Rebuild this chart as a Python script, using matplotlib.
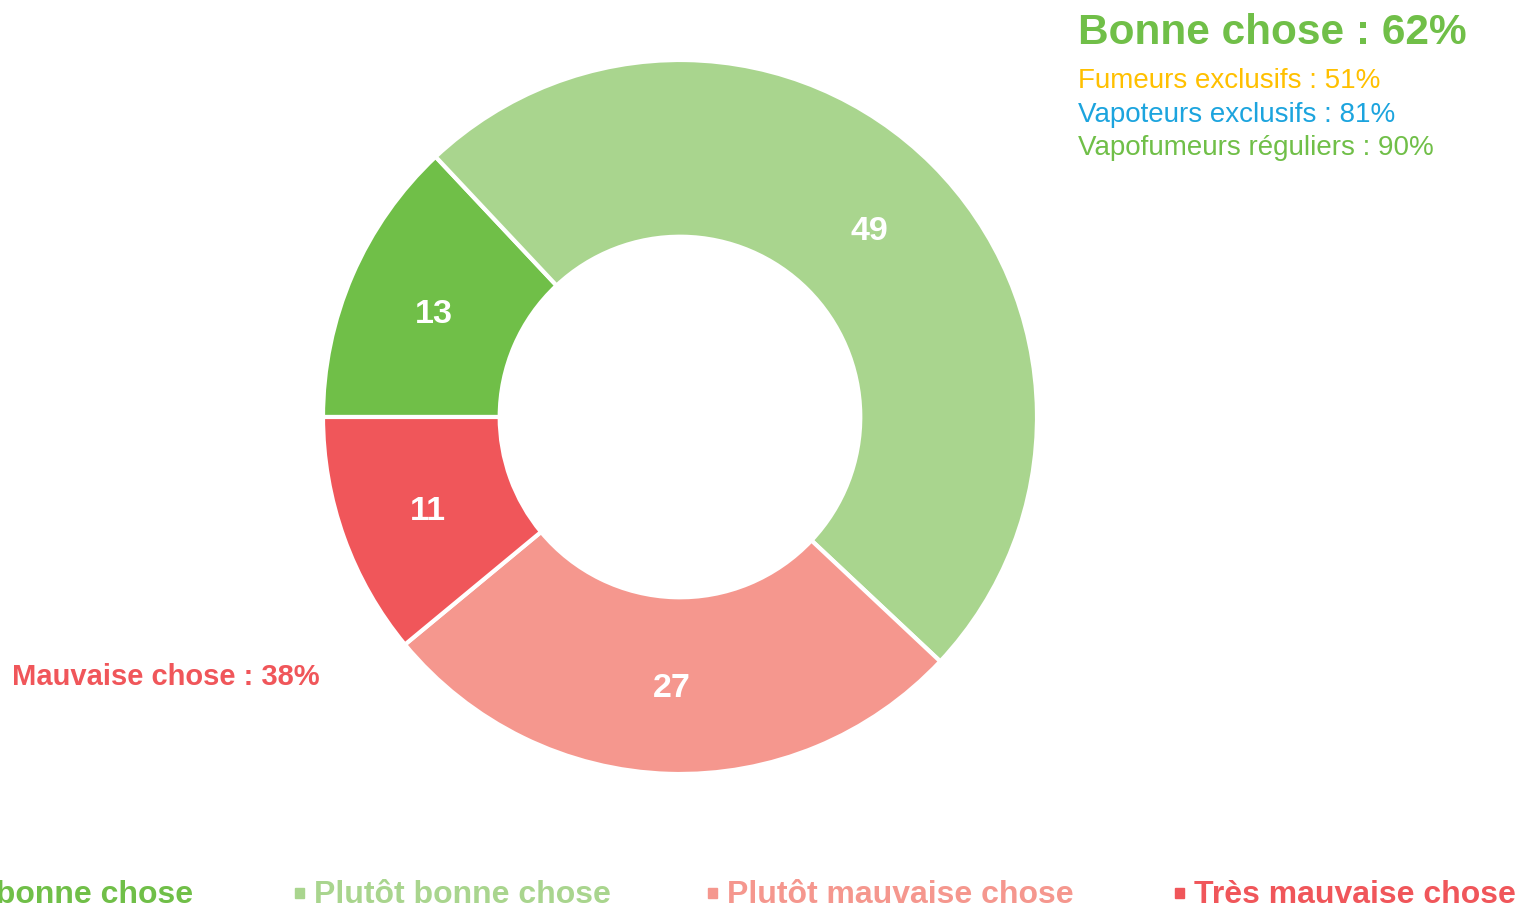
import matplotlib
matplotlib.use("Agg")
import matplotlib.pyplot as plt
from matplotlib.patches import Rectangle

plt.rcParams['font.family'] = ['Liberation Sans', 'DejaVu Sans']

labels = ["Très bonne chose", "Plutôt bonne chose", "Plutôt mauvaise chose", "Très mauvaise chose"]
values = [13, 49, 27, 11]
colors = ["#70BF48", "#A9D58E", "#F5978E", "#F0565A"]

bonne_total = "Bonne chose : 62%"
mauvaise_total = "Mauvaise chose : 38%"
sub_labels = ["Fumeurs exclusifs : 51%", "Vapoteurs exclusifs : 81%", "Vapofumeurs réguliers : 90%"]
sub_colors = ["#FFC000", "#1CA4DE", "#70BF48"]

W, H = 1527, 914
fig = plt.figure(figsize=(W / 100, H / 100), dpi=100)

# donut, centre (680, 417) px, outer radius 357 px
cx, cy, r = 680, 417, 357
ax = fig.add_axes([(cx - r) / W, (H - cy - r) / H, 2 * r / W, 2 * r / H])
wedges, texts, autotexts = ax.pie(
    values, colors=colors, startangle=180, counterclock=False,
    radius=1, autopct=lambda p: f"{p:.0f}", pctdistance=0.75,
    wedgeprops=dict(width=0.495, edgecolor="white", linewidth=3))
for t in autotexts:
    t.set_color("white")
    t.set_fontsize(24.5)
    t.set_fontweight("bold")
    x, y = t.get_position()
    t.set_position((x, y - 0.011))
ax.set_xlim(-1, 1)
ax.set_ylim(-1, 1)
ax.axis("off")

# annotations
fig.text(1078 / W, 1 - 33 / H, bonne_total, color="#70BF48", fontsize=30.5,
         fontweight="bold", ha="left", va="center")
for i, (s, c) in enumerate(zip(sub_labels, sub_colors)):
    fig.text(1078 / W, 1 - (81 + 33.5 * i) / H, s, color=c, fontsize=20,
             ha="left", va="center")
fig.text(12 / W, 1 - 677 / H, mauvaise_total, color="#F0565A", fontsize=21,
         fontweight="bold", ha="left", va="center")

# legend along the bottom (clipped at both sides like the original)
ly = 1 - 895 / H
marker_x = [None, 295, 708, 1175]
for i, (lab, c) in enumerate(zip(labels, colors)):
    if i == 0:
        fig.text(193 / W, ly, lab, color=c, fontsize=23, fontweight="bold",
                 ha="right", va="center")
        continue
    mx = marker_x[i]
    fig.patches.append(Rectangle((mx / W, ly - 3 / H), 9 / W, 10 / H,
                                 transform=fig.transFigure, color=c))
    fig.text((mx + 19) / W, ly, lab, color=c, fontsize=23, fontweight="bold",
             ha="left", va="center")

fig.savefig("out.png", dpi=100)
